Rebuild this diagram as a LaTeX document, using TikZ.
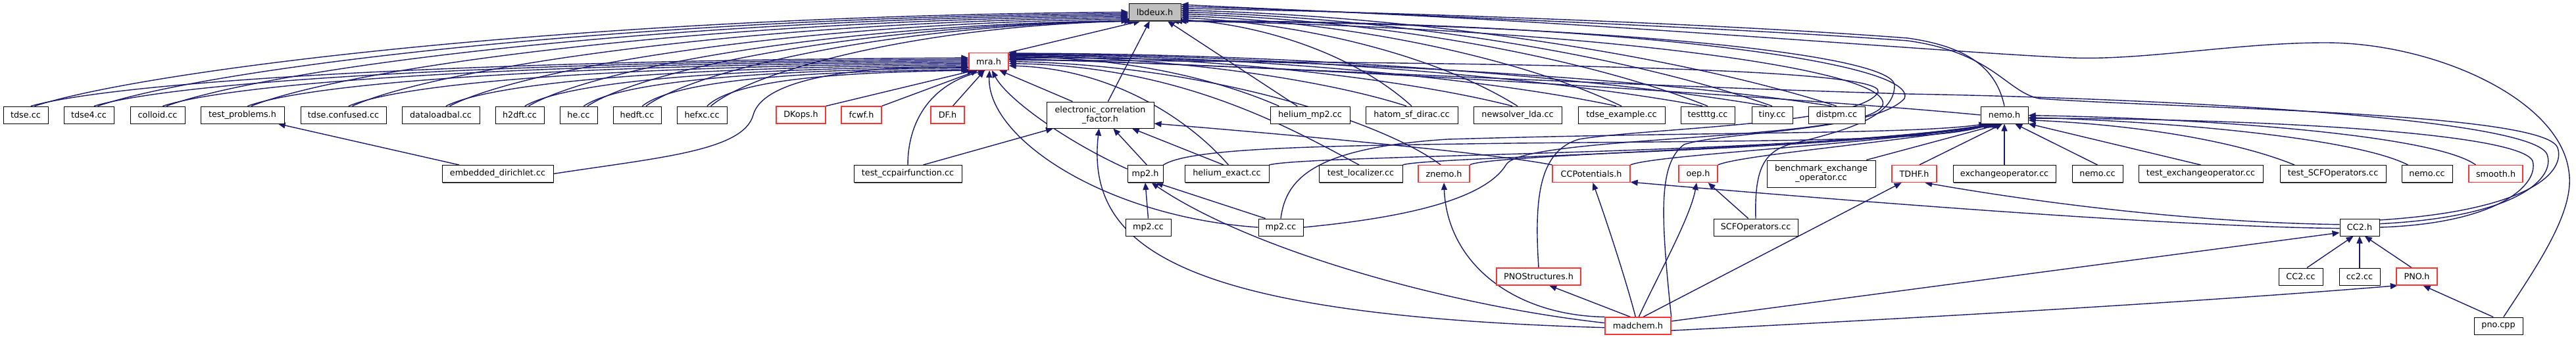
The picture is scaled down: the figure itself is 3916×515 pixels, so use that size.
\documentclass[tikz,border=0pt]{standalone}
\usepackage{fontspec}
\newfontfamily\nodefam{DejaVu Sans}
\usetikzlibrary{arrows.meta,shadows}
\definecolor{edgec}{HTML}{191970}
\definecolor{redb}{HTML}{FF3333}
\definecolor{lgray}{HTML}{BFBFBF}
\newcommand\nodefont{\nodefam\fontsize{6.4pt}{7pt}\selectfont}
\pgfdeclarelayer{back}\pgfdeclarelayer{bg}\pgfsetlayers{back,bg,main}
\newcommand\bx[7][box]{\node[#1,minimum width={#5*0.5pt},minimum height={#6*0.5pt}] (#2) at (#3,#4) {#7};}
\tikzset{
 box/.style={draw=black, fill=white, line width=0.5pt, inner sep=0pt, font=\nodefont, align=center,
   drop shadow={shadow xshift=0.5pt, shadow yshift=-0.6pt, fill=black!65, opacity=1}},
 rbox/.style={draw=redb, fill=white, line width=0.6pt, inner sep=0pt, font=\nodefont, align=center},
 lbox/.style={box, fill=lgray},
 edge/.style={draw=edgec, line width=0.7pt, -{Triangle[length=5.5pt,width=4.5pt]}}
}
\begin{document}
\begin{tikzpicture}[x=0.5pt,y=-0.5pt]
\begin{pgfonlayer}{back}
\fill[white] (0,0) rectangle (3916,515);
\end{pgfonlayer}
\useasboundingbox (0,0) rectangle (3916,515);
% nodes
\bx[lbox]{L}{1755.5}{18.5}{79}{26}{lbdeux.h}
\bx[rbox]{mra}{1503}{93.5}{60}{26}{mra.h}
\bx{tdse}{39}{175}{68}{26}{tdse.cc}
\bx{tdseq}{135}{175}{76}{26}{tdse4.cc}
\bx{colloid}{239.5}{175}{83}{26}{colloid.cc}
\bx{tprob}{368.5}{175}{127}{26}{test\_problems.h}
\bx{tconf}{522}{175}{130}{26}{tdse.confused.cc}
\bx{dlb}{670}{175}{118}{26}{dataloadbal.cc}
\bx{h2dft}{790}{175}{74}{26}{h2dft.cc}
\bx{he}{879.5}{175}{57}{26}{he.cc}
\bx{hedft}{968.5}{175}{73}{26}{hedft.cc}
\bx{hefxc}{1067}{175}{76}{26}{hefxc.cc}
\bx[rbox]{DKops}{1217.5}{175}{75}{26}{DKops.h}
\bx[rbox]{fcwf}{1309.5}{175}{61}{26}{fcwf.h}
\bx[rbox]{DF}{1440.5}{175}{51}{26}{DF.h}
\bx{ecf}{1672.5}{175}{163}{40}{electronic\_correlation\\\_factor.h}
\bx{hmp2}{1991.5}{175}{121}{26}{helium\_mp2.cc}
\bx{hatom}{2146}{175}{140}{26}{hatom\_sf\_dirac.cc}
\bx{nslda}{2307}{175}{134}{26}{newsolver\_lda.cc}
\bx{tdseex}{2465}{175}{132}{26}{tdse\_example.cc}
\bx{ttg}{2596}{175}{82}{26}{testttg.cc}
\bx{tiny}{2694}{175}{62}{26}{tiny.cc}
\bx{distpm}{2792}{175}{86}{26}{distpm.cc}
\bx{nemoh}{3047}{175}{72}{26}{nemo.h}
\bx{embd}{756.5}{264.5}{169}{26}{embedded\_dirichlet.cc}
\bx{tccp}{1380}{264.5}{164}{26}{test\_ccpairfunction.cc}
\bx{mpth}{1741}{264.5}{54}{26}{mp2.h}
\bx{hex}{1865}{264.5}{128}{26}{helium\_exact.cc}
\bx{tloc}{2068.5}{264.5}{127}{26}{test\_localizer.cc}
\bx[rbox]{znemo}{2195}{264.5}{78}{26}{znemo.h}
\bx[rbox]{ccpot}{2419}{264.5}{118}{26}{CCPotentials.h}
\bx[rbox]{oep}{2581.5}{264.5}{59}{26}{oep.h}
\bx{bench}{2768.5}{264.5}{165}{41}{benchmark\_exchange\\\_operator.cc}
\bx[rbox]{tdhf}{2910}{264.5}{68}{26}{TDHF.h}
\bx{exop}{3047}{264.5}{156}{26}{exchangeoperator.cc}
\bx{ncca}{3188.5}{264.5}{77}{26}{nemo.cc}
\bx{texop}{3345.5}{264.5}{189}{26}{test\_exchangeoperator.cc}
\bx{tscf}{3546.5}{264.5}{161}{26}{test\_SCFOperators.cc}
\bx{nccb}{3689.5}{264.5}{77}{26}{nemo.cc}
\bx[rbox]{smooth}{3794}{264.5}{82}{26}{smooth.h}
\bx{mpcca}{1745.5}{346}{69}{26}{mp2.cc}
\bx{mpccb}{1947}{346}{68}{26}{mp2.cc}
\bx{scfop}{2669}{346}{128}{26}{SCFOperators.cc}
\bx{cch}{3587}{346}{60}{26}{CC2.h}
\bx[rbox]{pnos}{2339}{421}{128}{26}{PNOStructures.h}
\bx{ccca}{3497.5}{421}{67}{26}{CC2.cc}
\bx{cccb}{3587}{421}{62}{26}{cc2.cc}
\bx[rbox]{pnoh}{3674}{421}{62}{26}{PNO.h}
\bx[rbox]{madchem}{2490}{496}{100}{26}{madchem.h}
\bx{pnocpp}{3798}{496}{74}{26}{pno.cpp}
% edges
\begin{pgfonlayer}{bg}
% left row -> lbdeux
\draw[edge] (tdse.45) .. controls +(168,-55) and +(-838,6) .. (L.180);
\draw[edge] (tdseq.45) .. controls +(158,-55) and +(-790,6) .. (L.183);
\draw[edge] (colloid.45) .. controls +(148,-55) and +(-738,6) .. (L.186);
\draw[edge] (tprob.45) .. controls +(135,-55) and +(-674,6) .. (L.189);
\draw[edge] (tconf.45) .. controls +(119,-55) and +(-597,6) .. (L.192);
\draw[edge] (dlb.45) .. controls +(105,-55) and +(-523,6) .. (L.195);
\draw[edge] (h2dft.45) .. controls +(93,-55) and +(-463,6) .. (L.198);
\draw[edge] (he.45) .. controls +(84,-55) and +(-418,6) .. (L.201);
\draw[edge] (hedft.45) .. controls +(75,-55) and +(-374,6) .. (L.204);
\draw[edge] (hefxc.45) .. controls +(65,-55) and +(-324,6) .. (L.207);
% left row -> mra
\draw[edge] (tdse.60) .. controls +(143,-40) and +(-717,3) .. (mra.170);
\draw[edge] (tdseq.60) .. controls +(134,-40) and +(-669,3) .. (mra.174);
\draw[edge] (colloid.60) .. controls +(123,-40) and +(-616,3) .. (mra.178);
\draw[edge] (tprob.60) .. controls +(110,-40) and +(-552,3) .. (mra.182);
\draw[edge] (tconf.60) .. controls +(95,-40) and +(-475,3) .. (mra.186);
\draw[edge] (dlb.60) .. controls +(80,-40) and +(-401,3) .. (mra.190);
\draw[edge] (h2dft.60) .. controls +(68,-40) and +(-341,3) .. (mra.194);
\draw[edge] (he.60) .. controls +(59,-40) and +(-296,3) .. (mra.198);
\draw[edge] (hedft.60) .. controls +(50,-40) and +(-252,3) .. (mra.202);
\draw[edge] (hefxc.60) .. controls +(41,-40) and +(-203,3) .. (mra.206);
\draw[edge] (embd.east) .. controls (1000,240) and (1130,230) .. (1145,175) .. controls (1160,120) and (1300,100) .. (mra.196);
\draw[edge] (embd.167) -- (tprob.-14);
\draw[edge] (DKops.north east) -- (mra.212);
\draw[edge] (fcwf.north east) -- (mra.220);
\draw[edge] (DF.60) -- (mra.245);
\draw[edge] (mra.north east) -- (L.212);
\draw[edge] (ecf.60) -- (L.240);
\draw[edge] (ecf.154) -- (mra.-40);
\draw[edge] (hmp2.145) -- (L.-35);
\draw[edge] (hmp2.164) .. controls +(-92,-40) and +(183,0) .. (mra.12);
% right row -> lbdeux and mra
\draw[edge] (hatom.north) .. controls +(-88,-80) and +(123,8) .. (L.-16);
\draw[edge] (nslda.north) .. controls +(-128,-80) and +(179,8) .. (L.-12);
\draw[edge] (tdseex.north) .. controls +(-168,-80) and +(235,8) .. (L.-8);
\draw[edge] (ttg.north) .. controls +(-200,-80) and +(280,8) .. (L.-4);
\draw[edge] (tiny.north) .. controls +(-225,-80) and +(315,8) .. (L.0);
\draw[edge] (distpm.north) .. controls +(-249,-80) and +(349,8) .. (L.4);
\draw[edge] (hatom.120) .. controls +(-123,-40) and +(245,0) .. (mra.14);
\draw[edge] (nslda.120) .. controls +(-155,-40) and +(310,0) .. (mra.16);
\draw[edge] (tdseex.120) .. controls +(-186,-40) and +(373,0) .. (mra.18);
\draw[edge] (ttg.120) .. controls +(-213,-40) and +(425,0) .. (mra.20);
\draw[edge] (tiny.120) .. controls +(-232,-40) and +(464,0) .. (mra.22);
\draw[edge] (distpm.120) .. controls +(-252,-40) and +(504,0) .. (mra.10);
% nemo.h upward
\draw[edge] (nemoh.north) .. controls (3036,110) and (3000,72) .. (2900,58) .. controls (2600,35) and (2100,18) .. (L.8);
\draw[edge] (nemoh.west) .. controls (2750,150) and (1950,98) .. (mra.6);
% row 3 left part
\draw[edge] (tccp.north) .. controls (1380,190) and (1410,130) .. (mra.250);
\draw[edge] (tccp.30) -- (ecf.196);
\draw[edge] (mpth.80) -- (ecf.-46);
\draw[edge] (mpth.165) .. controls (1620,215) and (1530,150) .. (mra.290);
\draw[edge] (hex.110) -- (ecf.-23);
\draw[edge] (hex.80) .. controls (1815,190) and (1700,105) .. (mra.-12);
\draw[edge] (tloc.100) .. controls (1970,200) and (1800,100) .. (mra.-6);
\draw[edge] (znemo.110) .. controls (2110,190) and (1850,100) .. (mra.0);
\draw[edge] (ccpot.north west) .. controls (2250,230) and (1900,200) .. (ecf.-9);
% to nemo.h from the left
\draw[edge] (mpth.north east) .. controls (1810,225) and (2000,222) .. (2300,218) .. controls (2700,214) and (2950,215) .. (nemoh.212);
\draw[edge] (hex.north east) .. controls (1990,235) and (2750,235) .. (nemoh.218);
\draw[edge] (tloc.north east) .. controls (2170,238) and (2800,230) .. (nemoh.224);
\draw[edge] (znemo.north east) .. controls (2260,235) and (2800,225) .. (nemoh.230);
\draw[edge] (ccpot.north east) .. controls (2520,235) and (2850,220) .. (nemoh.236);
\draw[edge] (oep.north east) .. controls (2650,235) and (2900,215) .. (nemoh.242);
\draw[edge] (bench.17) -- (nemoh.250);
\draw[edge] (tdhf.60) -- (nemoh.258);
\draw[edge] (mpccb.north) .. controls (1955,270) and (2000,225) .. (2200,212) .. controls (2600,200) and (2900,205) .. (nemoh.206);
% to nemo.h from the right
\draw[edge] (exop.north) -- (nemoh.south);
\draw[edge] (ncca.north) -- (nemoh.-40);
\draw[edge] (texop.north) -- (nemoh.-20);
\draw[edge] (tscf.167) .. controls (3400,215) and (3250,190) .. (nemoh.-12);
\draw[edge] (nccb.155) .. controls (3580,210) and (3300,185) .. (nemoh.-6);
\draw[edge] (smooth.156) .. controls (3700,205) and (3350,180) .. (nemoh.-1);
% mp2
\draw[edge] (mpcca.north) -- (mpth.south);
\draw[edge] (mpccb.150) -- (mpth.-40);
\draw[edge] (mpccb.west) .. controls (1680,330) and (1500,210) .. (mra.275);
\draw[edge] (mpccb.east) .. controls (2150,330) and (2260,300) .. (2290,250) .. controls (2320,205) and (2840,215) .. (2862,160) .. controls (2880,100) and (2350,40) .. (L.-28);
% SCFOperators
\draw[edge] (scfop.130) -- (oep.-42);
\draw[edge] (scfop.north) .. controls (2667,260) and (2680,232) .. (2720,220) .. controls (2800,200) and (2880,180) .. (2880,130) .. controls (2880,80) and (2400,35) .. (L.-20);
% PNOStructures
\draw[edge] (pnos.north) .. controls (2332,300) and (2340,230) .. (2400,212) .. controls (2500,195) and (2830,190) .. (2855,140) .. controls (2870,100) and (2200,95) .. (mra.4);
% madchem
\draw[edge] (madchem.175) .. controls (2200,465) and (1900,380) .. (mpth.-55);
\draw[edge] (madchem.183) .. controls (1800,480) and (1650,380) .. (ecf.265);
\draw[edge] (madchem.165) .. controls (2300,480) and (2200,400) .. (znemo.south);
\draw[edge] (madchem.130) -- (pnos.-40);
\draw[edge] (madchem.105) .. controls (2470,420) and (2440,330) .. (ccpot.-80);
\draw[edge] (madchem.85) .. controls (2520,420) and (2570,330) .. (oep.260);
\draw[edge] (madchem.60) -- (tdhf.215);
\draw[edge] (madchem.8) -- (cch.195);
\draw[edge] (madchem.-8) .. controls (3000,480) and (3400,455) .. (pnoh.205);
\draw[edge] (madchem.north east) .. controls (2525,330) and (2520,250) .. (2560,220) .. controls (2620,200) and (2850,200) .. (2895,150) .. controls (2920,90) and (2400,30) .. (L.-24);
% CC2.h
\draw[edge] (cch.172) .. controls (3300,338) and (3050,300) .. (tdhf.-40);
\draw[edge] (cch.183) .. controls (3300,345) and (2800,305) .. (ccpot.-12);
\draw[edge] (cch.east) .. controls (3800,340) and (3860,280) .. (3850,245) .. controls (3830,200) and (3400,180) .. (nemoh.-8);
\draw[edge] (cch.10) .. controls (3830,330) and (3885,270) .. (3872,235) .. controls (3850,180) and (3300,150) .. (2900,143) .. controls (2400,128) and (1900,100) .. (mra.8);
\draw[edge] (cch.20) .. controls (3850,320) and (3900,260) .. (3888,225) .. controls (3870,170) and (3300,165) .. (3100,150) .. controls (3050,140) and (3030,80) .. (2900,62) .. controls (2600,40) and (2100,22) .. (L.16);
\draw[edge] (ccca.55) -- (cch.235);
\draw[edge] (cccb.north) -- (cch.south);
\draw[edge] (pnoh.120) -- (cch.-60);
% pno.cpp
\draw[edge] (pnocpp.120) -- (pnoh.-55);
\draw[edge] (pnocpp.60) .. controls (3860,400) and (3915,320) .. (3905,260) .. controls (3890,150) and (3700,65) .. (3535,65) .. controls (3400,65) and (3260,92) .. (3150,88) .. controls (2950,80) and (2300,22) .. (L.12);
\end{pgfonlayer}
\end{tikzpicture}
\end{document}
